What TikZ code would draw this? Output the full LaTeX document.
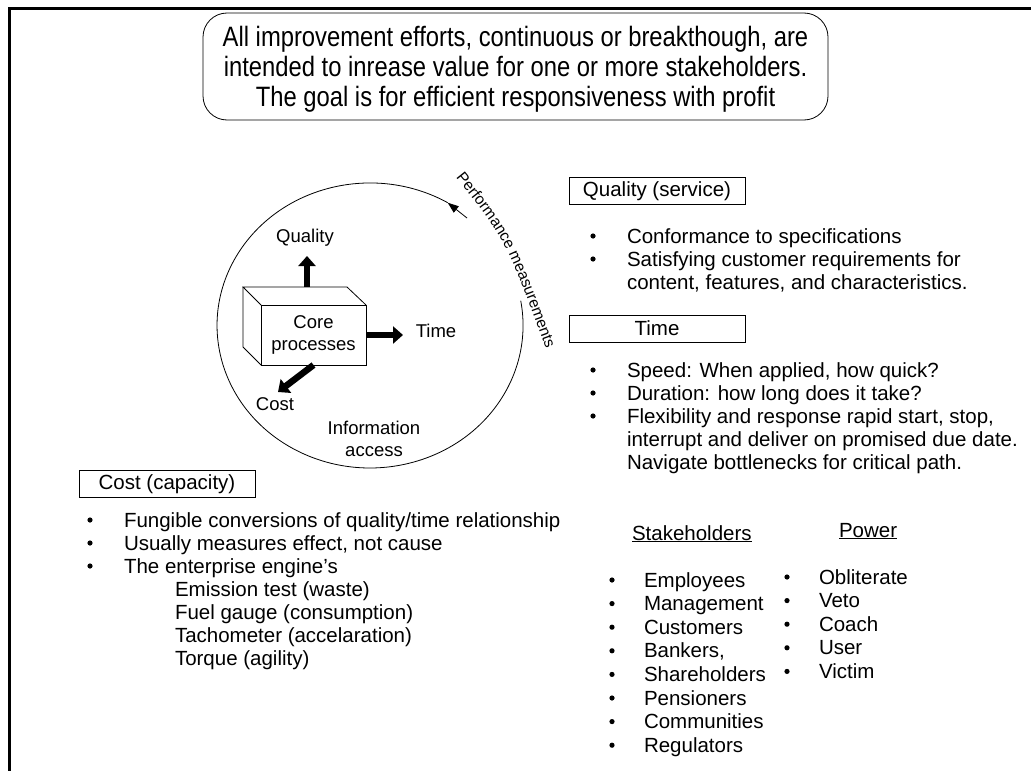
\documentclass[tikz,border=0pt]{standalone}
\usepackage{fontspec}
\setmainfont{Liberation Sans}
\newfontfamily\narrowfont[FakeStretch=0.85]{Liberation Sans}
\usetikzlibrary{arrows.meta,decorations.text}

\begin{document}
\begin{tikzpicture}[x=1pt,y=-1pt,
  every node/.style={inner sep=0pt, outer sep=0pt},
  body/.style={font=\fontsize{20.5}{23.6}\selectfont, anchor=base west},
  lbl/.style={font=\fontsize{18.5}{22}\selectfont, align=center},
  hdrbox/.style={draw, line width=0.8pt, minimum width=176pt, minimum height=27pt,
    font=\fontsize{20.5}{23.6}\selectfont},
  thin/.style={line width=0.8pt},
  bigarrow/.style={line width=6.5pt, -{Triangle[length=10pt,width=17pt]}},
  dot/.style={fill=black},
]
\useasboundingbox (0,0) rectangle (1031,771);

% frame (left and top edges)
\draw[line width=3pt] (9,771) -- (9,8) -- (1031,8);

% goal statement
\node[draw, thin, rounded corners=24pt, minimum width=625pt, minimum height=107pt]
  (goal) at (515.5,66.5) {};
\node[align=center, font=\narrowfont\fontsize{28}{30}\selectfont] (goaltxt)
  at ([yshift=-3pt]goal.center)
  {All improvement efforts, continuous or breakthough, are\\
   intended to inrease value for one or more stakeholders.\\
   The goal is for efficient responsiveness with profit};

% performance measurement loop
\coordinate (arcA) at (447.7,202.7);
\coordinate (pmtail) at (467,218);
\draw[thin] (arcA) arc[start angle=59.5, end angle=370, x radius=153pt, y radius=142.5pt];
\draw[thin, -{Triangle[length=11pt,width=8pt]}] (pmtail) -- (arcA);
\coordinate (pmA) at (454,175);
\coordinate (pmB) at (506,240);
\coordinate (pmC) at (547,352);
\path[decorate, decoration={text along path, text align=center,
    text={|\fontsize{15.5}{17}\selectfont|Performance measurements}}]
  (pmA) .. controls (pmB) .. (pmC);

% core processes box
\node[draw, thin, minimum width=105pt, minimum height=60pt, lbl] (core) at (313.5,335)
  {Core\\processes};
\draw[thin] (core.north west) -- ++(-18,-18) coordinate (bl)
  -- ([shift={(-19,-18)}]core.north east) -- (core.north east);
\draw[thin] (bl) -- ++(0,60) -- (core.south west);

% output arrows
\coordinate (qtip) at (307,256);
\coordinate (ttip) at (403,335);
\coordinate (ctip) at (278,392);
\draw[bigarrow] ([shift={(-6.5,-18)}]core.north) -- (qtip);
\draw[bigarrow] (core.east) -- (ttip);
\draw[bigarrow] (core.south) -- (ctip);

\node[lbl] (qlab) at (305,238) {Quality};
\node[lbl] (tlab) at (436,331) {Time};
\node[lbl] (clab) at (275,404) {Cost};
\node[lbl] (info) at (374,439) {Information\\access};

% section headers
\node[hdrbox] (qhdr) at (657,191) {Quality (service)};
\node[hdrbox] (thdr) at (657,328.5) {Time};
\node[hdrbox] (chdr) at (167,484) {Cost (capacity)};

% quality items
\foreach \t [count=\i] in {{Conformance to specifications},
    {Satisfying customer requirements for},
    {content, features, and characteristics.}}
  \node[body] (qi\i) at (627,{243+23*(\i-1)}) {\t};
\foreach \i in {0,1}
  \fill[dot] (593,{236+23*\i}) circle (2.6pt);

% time items
\foreach \t [count=\i] in {{Speed: When applied, how quick?},
    {Duration: how long does it take?},
    {Flexibility and response rapid start, stop,},
    {interrupt and deliver on promised due date.},
    {Navigate bottlenecks for critical path.}}
  \node[body] (ti\i) at (627,{377+23*(\i-1)}) {\t};
\foreach \i in {0,1,2}
  \fill[dot] (593,{370+23*\i}) circle (2.6pt);

% cost items
\foreach \t [count=\i] in {{Fungible conversions of quality/time relationship},
    {Usually measures effect, not cause},
    {The enterprise engine’s}}
  \node[body] (ci\i) at (124,{527+23*(\i-1)}) {\t};
\foreach \i in {0,1,2}
  \fill[dot] (90,{520+23*\i}) circle (2.6pt);
\foreach \t [count=\i] in {{Emission test (waste)},
    {Fuel gauge (consumption)},
    {Tachometer (accelaration)},
    {Torque (agility)}}
  \node[body] (cs\i) at (175,{596+23*(\i-1)}) {\t};

% stakeholders and power
\node[body] (sh) at (632,540) {\underline{Stakeholders}};
\node[body] (pw) at (839,537) {\underline{Power}};
\foreach \t [count=\i] in {Employees, Management, Customers, {Bankers,},
    Shareholders, Pensioners, Communities, Regulators}
  {\node[body] (s\i) at (644,{587+23.6*(\i-1)}) {\t};
   \fill[dot] (612,{580+23.6*(\i-1)}) circle (2.6pt);}
\foreach \t [count=\i] in {Obliterate, Veto, Coach, User, Victim}
  {\node[body] (p\i) at (819,{584+23.6*(\i-1)}) {\t};
   \fill[dot] (787,{577+23.6*(\i-1)}) circle (2.6pt);}
\end{tikzpicture}
\end{document}
